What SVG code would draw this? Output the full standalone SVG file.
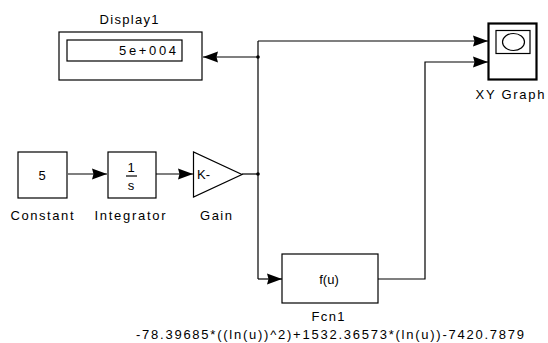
<svg xmlns="http://www.w3.org/2000/svg" width="548" height="343" viewBox="0 0 548 343">
<style>
.blk{fill:#fff;stroke:#000;stroke-width:1.2}
.ln{fill:none;stroke:#000;stroke-width:1.2}
text{font-family:"Liberation Sans",Arial,sans-serif;font-size:13px;fill:#000}
.c{text-anchor:middle}
</style>
<defs>
<marker id="ah" markerUnits="userSpaceOnUse" markerWidth="15" markerHeight="12" refX="15" refY="6" orient="auto">
<path d="M0,0.5 L15,6 L0,11.5 L1.5,6 Z" fill="#000"/>
</marker>
</defs>
<rect width="548" height="343" fill="#fff"/>
<g id="connectors">
<path class="ln" d="M68,174 H107" marker-end="url(#ah)"/>
<path class="ln" d="M156,174 H193" marker-end="url(#ah)"/>
<path class="ln" d="M242,174 H258"/>
<path class="ln" d="M258,41 V279"/>
<path class="ln" d="M258,41 H488" marker-end="url(#ah)"/>
<path class="ln" d="M258,57 H203" marker-end="url(#ah)"/>
<path class="ln" d="M258,279 H282" marker-end="url(#ah)"/>
<path class="ln" d="M378,279 H425 V62 H488" marker-end="url(#ah)"/>
<circle cx="258" cy="57" r="1.8" fill="#000"/>
<circle cx="258" cy="174" r="1.8" fill="#000"/>
</g>
<g id="Display1">
<rect class="blk" x="59" y="32" width="143" height="48"/>
<rect class="blk" x="67" y="40" width="115" height="21"/>
<text x="176" y="55" text-anchor="end" textLength="57" lengthAdjust="spacing">5e+004</text>
<text class="c" x="129" y="24" textLength="59" lengthAdjust="spacing">Display1</text>
</g>
<g id="XYGraph">
<rect x="488.5" y="23.5" width="48" height="56" fill="#fff" stroke="#000" stroke-width="2.2"/>
<rect class="blk" x="496" y="30.5" width="34" height="23"/>
<ellipse cx="513.5" cy="42" rx="11" ry="8.5" fill="none" stroke="#000" stroke-width="1.2"/>
<text class="c" x="510" y="99" textLength="69" lengthAdjust="spacing">XY Graph</text>
</g>
<g id="Constant">
<rect class="blk" x="18" y="152" width="49" height="46"/>
<text class="c" x="42" y="180">5</text>
<text class="c" x="42" y="220" textLength="63" lengthAdjust="spacing">Constant</text>
</g>
<g id="Integrator">
<rect class="blk" x="108" y="152" width="48" height="46"/>
<text class="c" x="131" y="172">1</text>
<line x1="126" y1="176" x2="137" y2="176" stroke="#000" stroke-width="1.2"/>
<text class="c" x="131" y="190">s</text>
<text class="c" x="130" y="220" textLength="71" lengthAdjust="spacing">Integrator</text>
</g>
<g id="Gain">
<polygon class="blk" points="193.5,152 193.5,197 242,174.5"/>
<text x="197" y="179">K-</text>
<text class="c" x="216" y="220" textLength="32" lengthAdjust="spacing">Gain</text>
</g>
<g id="Fcn1">
<rect class="blk" x="282" y="254" width="96" height="49"/>
<text class="c" x="329" y="284">f(u)</text>
<text class="c" x="328" y="321" textLength="33" lengthAdjust="spacing">Fcn1</text>
<text class="c" x="330" y="339" textLength="388" lengthAdjust="spacing">-78.39685*((ln(u))^2)+1532.36573*(ln(u))-7420.7879</text>
</g>
</svg>
